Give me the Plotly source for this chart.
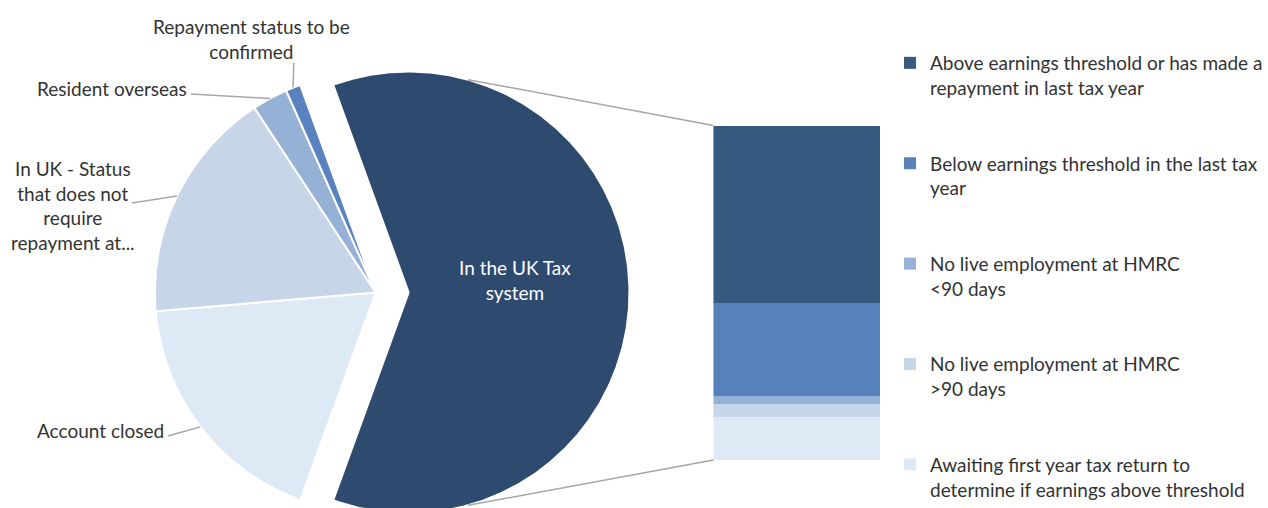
import numpy as np
import plotly.graph_objects as go

# ---------------- data (percent of all borrowers) ----------------
pie_labels = ["Account closed",
              "In UK - Status that does not require repayment at...",
              "Resident overseas",
              "Repayment status to be confirmed"]
pie_values = [18.1, 17.1, 2.6, 1.1]
pie_colors = ["#DDE9F5", "#C6D5E8", "#96B1D6", "#5983BE"]

main_label = "In the UK Tax system"
main_color = "#2E4A6F"

bar_labels = ["Above earnings threshold or has made a repayment in last tax year",
              "Below earnings threshold in the last tax year",
              "No live employment at HMRC <90 days",
              "No live employment at HMRC >90 days",
              "Awaiting first year tax return to determine if earnings above threshold"]
bar_legend_text = ["Above earnings threshold or has made a<br>repayment in last tax year",
                   "Below earnings threshold in the last tax<br>year",
                   "No live employment at HMRC<br>&lt;90 days",
                   "No live employment at HMRC<br>&gt;90 days",
                   "Awaiting first year tax return to<br>determine if earnings above threshold"]
bar_values = [32.4, 17.0, 1.4, 2.3, 8.0]
bar_colors = ["#375A80", "#5681BA", "#96B1D6", "#C6D5E8", "#DDE9F5"]

# ---------------- layout constants (pixels) ----------------
W, H = 1268, 508
CX, CY, R = 376.0, 292.5, 221.0      # pie centre / radius
EXPLODE = 33.0                        # explosion of the broken-out slice
BAR_X0, BAR_X1 = 714.0, 881.0
BAR_TOP, BAR_BOT = 125.5, 460.0
FONT = "Lato"
FS = 19
TXT = "#333333"
LINE = "#A6A6A6"

main_value = sum(bar_values)
total = main_value + sum(pie_values)


def pt(cx, cy, r, deg):
    a = np.radians(deg)
    return cx + r * np.sin(a), cy - r * np.cos(a)


def wedge(cx, cy, r, a0, a1):
    ang = np.linspace(a0, a1, max(int(abs(a1 - a0) * 2), 4))
    xs, ys = pt(cx, cy, r, ang)
    return [cx] + list(xs) + [cx], [cy] + list(ys) + [cy]


fig = go.Figure()

# broken-out slice, centred at 3 o'clock, exploded to the right
half = main_value / total * 180.0
mcx = CX + EXPLODE
xs, ys = wedge(mcx, CY, R, 90 - half, 90 + half)
fig.add_trace(go.Scatter(x=xs, y=ys, fill="toself", fillcolor=main_color, mode="lines",
                         line=dict(color="white", width=2), showlegend=False,
                         name=main_label, hoverinfo="name"))

# remaining slices clockwise
start = 90 + half
mids = []
for lab, val, col in zip(pie_labels, pie_values, pie_colors):
    span = val / total * 360.0
    xs, ys = wedge(CX, CY, R, start, start + span)
    fig.add_trace(go.Scatter(x=xs, y=ys, fill="toself", fillcolor=col, mode="lines",
                             line=dict(color="white", width=2), showlegend=False,
                             name=lab, hoverinfo="name"))
    mids.append(start + span / 2)
    start += span

# leader lines for the pie labels (label side -> slice mid-point on the arc)
label_pos = [  # text, x, y, leader start
    ("Account closed", 101, 430, (168, 436)),
    ("In UK - Status<br>that does not<br>require<br>repayment at...", 73, 205, (132, 203)),
    ("Resident overseas", 112, 88, (191, 94)),
    ("Repayment status to be<br>confirmed", 252, 39, (294, 63)),
]
for (txt, lx, ly, (sx, sy)), m in zip(label_pos, mids):
    ex, ey = pt(CX, CY, R, m)
    fig.add_trace(go.Scatter(x=[sx, ex], y=[sy, ey], mode="lines",
                             line=dict(color=LINE, width=1.5), showlegend=False, hoverinfo="skip"))
    fig.add_annotation(x=lx, y=ly, xref="x", yref="y", text=txt, showarrow=False,
                       font=dict(family=FONT, size=FS, color=TXT), align="center")

fig.add_annotation(x=515, y=280, xref="x", yref="y", text="In the UK Tax<br>system",
                   showarrow=False, font=dict(family=FONT, size=FS, color="white"), align="center")

# connector lines from broken-out slice to the bar
for ang, (bx, by) in [(15.6, (BAR_X0, BAR_TOP)), (164.4, (BAR_X0, BAR_BOT))]:
    sx, sy = pt(mcx, CY, R, ang)
    fig.add_trace(go.Scatter(x=[sx, bx], y=[sy, by], mode="lines",
                             line=dict(color=LINE, width=1.5), showlegend=False, hoverinfo="skip"))

# stacked bar (bottom segment first)
for i in reversed(range(len(bar_values))):
    fig.add_trace(go.Bar(x=[0], y=[bar_values[i]], width=1, name=bar_legend_text[i],
                         marker=dict(color=bar_colors[i], line=dict(width=0)),
                         xaxis="x2", yaxis="y2", legendgroup=f"g{i}", legendrank=i,
                         hovertext=bar_labels[i], hoverinfo="text+y"))

fig.update_layout(
    width=W, height=H, margin=dict(l=0, r=0, t=0, b=0),
    paper_bgcolor="white", plot_bgcolor="rgba(0,0,0,0)",
    barmode="stack", bargap=0,
    xaxis=dict(range=[0, W], domain=[0, 1], visible=False, fixedrange=True),
    yaxis=dict(range=[H, 0], domain=[0, 1], visible=False, fixedrange=True),
    xaxis2=dict(range=[-0.5, 0.5], domain=[BAR_X0 / W, BAR_X1 / W], anchor="y2",
                visible=False, fixedrange=True),
    yaxis2=dict(range=[0, main_value], domain=[(H - BAR_BOT) / H, (H - BAR_TOP) / H],
                anchor="x2", visible=False, fixedrange=True),
    legend=dict(x=(931 - 40) / W, xanchor="left", y=1 - 46 / H, yanchor="top",
                font=dict(family=FONT, size=FS, color=TXT), valign="top",
                traceorder="grouped", tracegroupgap=48, bgcolor="rgba(0,0,0,0)"),
    showlegend=True,
)

fig.write_html("out.html", config={"displayModeBar": False},
               post_script="document.body.style.margin='0px';")
